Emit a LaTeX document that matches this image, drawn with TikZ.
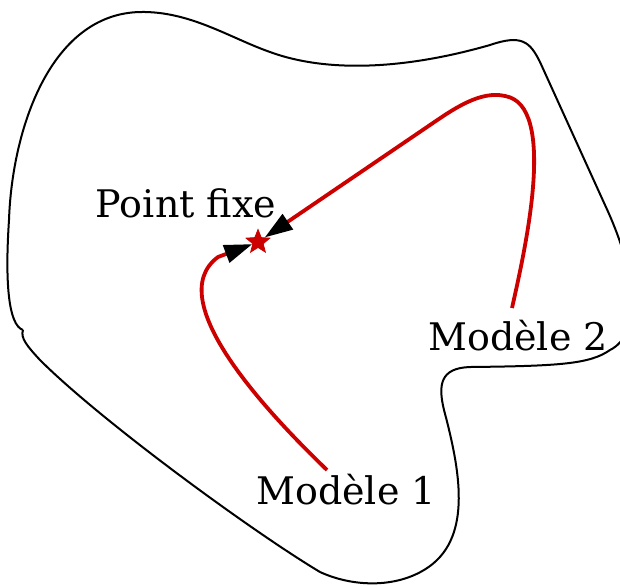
\documentclass[tikz,border=0pt]{standalone}
\usepackage{fontspec}
\newfontfamily\dejavu{DejaVu Serif}
\usepackage{tikz}
\usetikzlibrary{shapes.geometric,arrows.meta,positioning}
\definecolor{redthree}{RGB}{205,0,0}

\begin{document}
\begin{tikzpicture}[
    x=0.5pt, y=-0.5pt,
    lbl/.style={font=\dejavu\fontsize{19}{22}\selectfont, inner sep=1pt},
    fixstar/.style={star, star points=5, star point ratio=2.3, fill=redthree, draw=redthree, inner sep=0pt, minimum size=12.5pt},
    redarr/.style={draw=redthree, line width=1.9pt, -{Triangle[black,length=14pt,width=9pt]}},
    blob/.style={draw=black, line width=1pt}
]
\clip (0,0) rectangle (620,585);

% domain
\draw[blob] (23,330) .. controls (8,325) and (5,280) .. (9,220)
  .. controls (12,130) and (50,14) .. (140,12)
  .. controls (190,11) and (230,38) .. (270,52)
  .. controls (330,74) and (410,68) .. (490,45)
  .. controls (522,34) and (530,42) .. (540,62)
  -- (605,205)
  .. controls (640,280) and (640,335) .. (610,350)
  .. controls (590,364) and (560,366) .. (470,367)
  .. controls (440,368) and (438,385) .. (444,410)
  .. controls (460,470) and (472,535) .. (430,566)
  .. controls (400,588) and (355,588) .. (320,572)
  .. controls (250,530) and (100,420) .. (40,360)
  .. controls (28,347) and (20,338) .. (23,330);

% fixed point and labels
\node[fixstar] (fixpt) at (258,242) {};
\node[lbl] (pf) at (186,203) {Point fixe};
\node[lbl] (m1) at (346,490) {Modèle 1};
\node[lbl] (m2) at (518,336) {Modèle 2};

% iterations
\draw[redarr] (327,470) .. controls (270,415) and (160,300) .. (218,257) -- (fixpt);
\draw[redarr] (512,308) .. controls (525,250) and (558,105) .. (505,96)
  .. controls (480,90) and (452,110) .. (430,125) -- (fixpt);
\end{tikzpicture}
\end{document}
